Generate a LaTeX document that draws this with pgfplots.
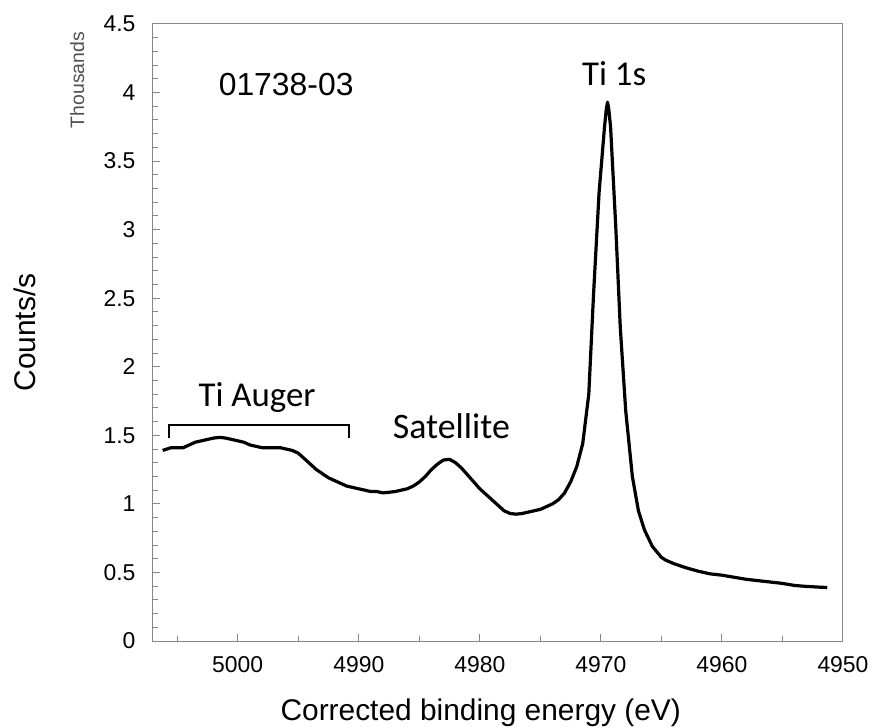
\documentclass[border=0pt]{standalone}
\usepackage{fontspec}
\setmainfont{Liberation Sans}
\newfontfamily\calibri{Carlito}
\usepackage{pgfplots}
\pgfplotsset{compat=1.18}
\definecolor{axgray}{RGB}{134,134,134}
\begin{document}
\begin{tikzpicture}
\useasboundingbox (0,0) rectangle (870bp,727bp);
\begin{axis}[
  at={(153bp,86bp)}, anchor=south west,
  scale only axis, width=690bp, height=617bp,
  x dir=reverse, xmin=4950, xmax=5007, ymin=0, ymax=4.5,
  xtick={4950,4960,4970,4980,4990,5000},
  minor xtick={4955,4965,4975,4985,4995,5005},
  ytick={0,0.5,1,1.5,2,2.5,3,3.5,4,4.5},
  minor y tick num=4,
  tick align=inside, xtick pos=bottom, ytick pos=left,
  major tick length=7bp, minor tick length=5bp,
  axis line style={axgray, line width=1bp},
  every tick/.style={axgray, line width=1bp},
  /pgf/number format/assume math mode=true,
  /pgf/number format/1000 sep={},
  xticklabel={\fontsize{23}{27}\selectfont\pgfmathprintnumber[assume math mode=true,1000 sep={}]{\tick}},
  yticklabel={\fontsize{23}{27}\selectfont\pgfmathprintnumber[assume math mode=true]{\tick}},
  tick label style={font=\fontsize{23}{27}\selectfont},
  yticklabel style={anchor=east, xshift=-14bp},
  xticklabel style={anchor=north, yshift=-12bp},
  xlabel={Corrected binding energy (eV)},
  ylabel={Counts/s},
  label style={font=\fontsize{30}{36}\selectfont},
  xlabel style={at={(axis description cs:0.475,0)}, anchor=base, yshift=-79bp},
  ylabel style={at={(axis description cs:0,0.5)}, anchor=center, yshift=128bp},
  clip=false,
]
\addplot[black, line width=3.2bp, line join=round] coordinates {
(5006.2,1.39) (5005.5,1.41) (5005.0,1.41) (5004.5,1.41) (5004.0,1.43)
(5003.5,1.45) (5003.0,1.46) (5002.5,1.47) (5002.0,1.48) (5001.5,1.485)
(5001.0,1.48) (5000.5,1.47) (5000.0,1.46) (4999.5,1.45) (4999.0,1.43)
(4998.5,1.42) (4998.0,1.41) (4997.5,1.41) (4997.0,1.41) (4996.5,1.41)
(4996.0,1.40) (4995.5,1.39) (4995.0,1.37) (4994.5,1.33) (4994.0,1.29)
(4993.5,1.25) (4993.0,1.22) (4992.5,1.19) (4992.0,1.17) (4991.5,1.15)
(4991.0,1.13) (4990.5,1.12) (4990.0,1.11) (4989.5,1.10) (4989.0,1.09)
(4988.5,1.09) (4988.0,1.08) (4987.5,1.085) (4987.0,1.09) (4986.5,1.10)
(4986.0,1.11) (4985.5,1.13) (4985.0,1.16) (4984.5,1.20) (4984.0,1.25)
(4983.5,1.29) (4983.0,1.32) (4982.5,1.325) (4982.0,1.30) (4981.5,1.26)
(4981.0,1.21) (4980.5,1.16) (4980.0,1.11) (4979.5,1.07) (4979.0,1.03)
(4978.5,0.99) (4978.0,0.95) (4977.5,0.93) (4977.0,0.925) (4976.5,0.93)
(4976.0,0.94) (4975.5,0.95) (4975.0,0.96) (4974.5,0.98) (4974.0,1.00)
(4973.5,1.03) (4973.0,1.08) (4972.5,1.16) (4972.0,1.27) (4971.5,1.44)
(4971.0,1.80) (4970.6,2.54) (4970.15,3.27) (4969.7,3.75) (4969.55,3.88)
(4969.45,3.93) (4969.35,3.88) (4969.2,3.75) (4968.77,3.02) (4968.4,2.29)
(4967.95,1.68) (4967.4,1.20) (4966.9,0.95) (4966.4,0.81) (4965.75,0.69)
(4965.0,0.61) (4964.65,0.59) (4964.0,0.565) (4963.0,0.535) (4962.0,0.51)
(4961.0,0.49) (4960.0,0.48) (4959.0,0.465) (4958.0,0.45) (4957.0,0.44)
(4956.0,0.43) (4955.0,0.42) (4954.0,0.405) (4953.0,0.398) (4952.0,0.393)
(4951.3,0.39)
};
\draw[black, line width=2bp] (axis cs:5005.7,1.48) -- (axis cs:5005.7,1.575) -- (axis cs:4990.8,1.575) -- (axis cs:4990.8,1.48);
\node[anchor=base, font=\calibri\fontsize{35}{42}\selectfont] at (axis cs:4998.4,1.707) {Ti Auger};
\node[anchor=base, font=\calibri\fontsize{36}{42}\selectfont] at (axis cs:4982.35,1.48) {Satellite};
\node[anchor=base, font=\calibri\fontsize{35}{42}\selectfont] at (axis cs:4968.9,4.055) {Ti 1s};
\node[anchor=base, font=\fontsize{32}{38}\selectfont] at (axis cs:4996.0,3.98) {01738-03};
\node[rotate=90, anchor=center, text=axgray!60!black, font=\fontsize{19.5}{23}\selectfont] at (rel axis cs:-0.110,0.909) {Thousands};
\end{axis}
\end{tikzpicture}
\end{document}
